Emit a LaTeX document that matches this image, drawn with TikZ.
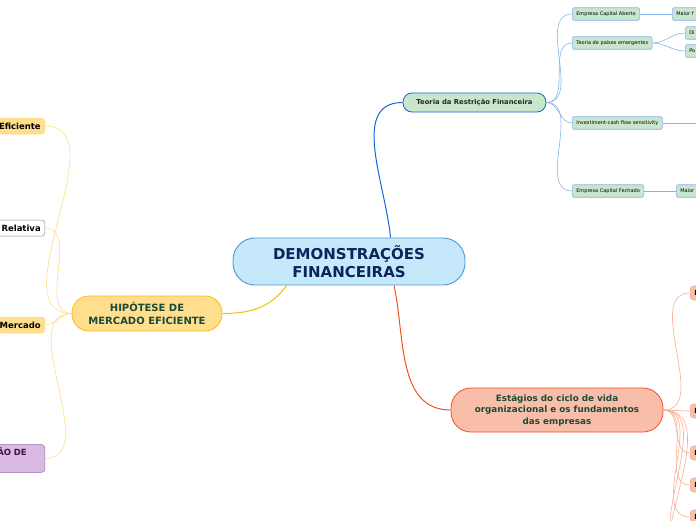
\documentclass[tikz,border=0pt]{standalone}
\usepackage{fontspec}
\setmainfont{DejaVu Sans}
\usetikzlibrary{positioning}
\definecolor{rootfill}{HTML}{C5E9FB}
\definecolor{rootline}{HTML}{4A98D8}
\definecolor{roottext}{HTML}{0C2459}
\definecolor{greenfill}{HTML}{C8E6CD}
\definecolor{blueline}{HTML}{1565D8}
\definecolor{lightblue}{HTML}{86B3EC}
\definecolor{salmon}{HTML}{F9BEAA}
\definecolor{orangeline}{HTML}{F4511E}
\definecolor{lightorange}{HTML}{FBAD93}
\definecolor{yellowfill}{HTML}{FFDE8D}
\definecolor{yellowline}{HTML}{FDB714}
\definecolor{lightyellow}{HTML}{FFDD85}
\definecolor{purplefill}{HTML}{D8BAE2}
\definecolor{purpleline}{HTML}{9A6AAA}
\definecolor{purpletext}{HTML}{3B1547}
\definecolor{darkgreen}{HTML}{1B4A36}
\tikzstyle{root}    = [rectangle, rounded corners=22pt, draw=rootline, fill=rootfill,
                       line width=0.9pt, minimum width=232pt, minimum height=47pt,
                       align=center, text=roottext,
                       font=\bfseries\fontsize{15}{18.5}\selectfont]
\tikzstyle{topic}   = [rectangle, line width=0.8pt, align=center, inner sep=0pt]
\tikzstyle{leaf}    = [rectangle, rounded corners=3pt, line width=0.5pt, anchor=east,
                       minimum width=90pt, minimum height=16pt, inner xsep=4pt,
                       align=right, text width=82pt,
                       font=\bfseries\fontsize{8.5}{10}\selectfont]
\tikzstyle{small}   = [rectangle, rounded corners=1.5pt, draw=lightblue, fill=greenfill,
                       line width=0.6pt, anchor=west, minimum height=12.5pt,
                       inner xsep=4pt, inner ysep=0pt, font=\fontsize{5}{6}\selectfont]
\tikzstyle{smallcut}= [small, text width=32pt, align=left]
\tikzstyle{stage}   = [rectangle, rounded corners=3pt, draw=lightorange, fill=salmon,
                       line width=0.6pt, anchor=west, minimum height=14pt,
                       minimum width=40pt, inner xsep=4pt, align=left, text width=32pt,
                       font=\bfseries\fontsize{7}{8}\selectfont]
\tikzstyle{trunk}   = [line width=1pt]
\tikzstyle{twig}    = [line width=0.6pt]

\begin{document}
\begin{tikzpicture}[x=1pt, y=-1pt]
\useasboundingbox (0,0) rectangle (696,520);
\clip (0,0) rectangle (696,520);

% centre
\node (central) [root] at (349,261.5) {DEMONSTRAÇÕES\\FINANCEIRAS};

% main topics
\node (restricao) [topic, rounded corners=9pt, draw=blueline, fill=greenfill,
  minimum width=143pt, minimum height=19pt, text=black!85,
  font=\bfseries\fontsize{6.8}{8}\selectfont] at (474.5,102.5) {Teoria da Restrição Financeira};
\node (ciclo) [topic, rounded corners=20pt, draw=orangeline, fill=salmon,
  minimum width=212pt, minimum height=44pt, text=darkgreen,
  font=\bfseries\fontsize{8.8}{11.5}\selectfont] at (557,410) {Estágios do ciclo de vida\\organizacional e os fundamentos\\das empresas};
\node (hipotese) [topic, rounded corners=17pt, draw=yellowline, fill=yellowfill,
  minimum width=150pt, minimum height=35pt, text=darkgreen,
  font=\bfseries\fontsize{10}{13}\selectfont] at (147,313.5) {HIPÓTESE DE\\MERCADO EFICIENTE};

\draw [trunk, blueline] (central.30) to[out=95, in=180] (restricao.west);
\draw [trunk, orangeline] (central.-28) to[out=-78, in=180] (ciclo.west);
\draw [trunk, yellowline] (central.-159) to[out=-125, in=0] (hipotese.east);

% Teoria da Restricao Financeira
\node (aberto) [small] at (572,14) {Empresa Capital Aberto};
\node (maior aberto) [smallcut] at (672,14) {Maior f};
\node (emergentes) [small] at (572,43) {Teoria de países emergentes};
\node (di) [smallcut] at (685,33) {Di};
\node (po) [smallcut] at (685,51) {Po};
\node (sensitivity) [small] at (572,123) {Investiment-cash flow sensitivity};
\node (fechado) [small] at (572,191) {Empresa Capital Fechado};
\node (maior fechado) [smallcut] at (676,191) {Maior};
\coordinate (sensitivity next) at (730,123);

\draw [twig, lightblue] (restricao.east) to[out=0, in=180] (aberto.west);
\draw [twig, lightblue] (restricao.east) to[out=0, in=180] (emergentes.west);
\draw [twig, lightblue] (restricao.east) to[out=0, in=180] (sensitivity.west);
\draw [twig, lightblue] (restricao.east) to[out=0, in=180] (fechado.west);
\draw [twig, lightblue] (aberto.east) -- (maior aberto.west);
\draw [twig, lightblue] (emergentes.east) to[out=0, in=180] (di.west);
\draw [twig, lightblue] (emergentes.east) to[out=0, in=180] (po.west);
\draw [twig, lightblue] (sensitivity.east) -- (sensitivity next);
\draw [twig, lightblue] (fechado.east) -- (maior fechado.west);

% Estagios do ciclo de vida
\node (stage a) [stage] at (690,293) {E};
\node (stage b) [stage] at (690,411) {E};
\node (stage c) [stage] at (690,453) {E};
\node (stage d) [stage] at (690,485) {E};
\node (stage e) [stage] at (690,517) {E};
\coordinate (stage f) at (690,552);
\coordinate (stage g) at (690,590);

\foreach \s in {a, b, c, d, e}
  \draw [twig, lightorange] (ciclo.east) to[out=0, in=180] (stage \s.west);
\draw [twig, lightorange] (ciclo.east) to[out=0, in=180] (stage f);
\draw [twig, lightorange] (ciclo.east) to[out=0, in=180] (stage g);

% Hipotese de mercado eficiente
\node (eficiente) [leaf, draw=lightyellow, fill=yellowfill] at (45,126) {Eficiente};
\node (relativa) [leaf, draw=black!45, fill=white] at (45,228) {Relativa};
\node (mercado) [leaf, draw=lightyellow, fill=yellowfill] at (45,325) {Mercado};
\node (purple) [leaf, draw=purpleline, fill=purplefill, text=purpletext,
  inner xsep=18pt, text width=68pt, minimum height=27pt, text depth=13pt] at (45,458.5) {ÃO DE};

\draw [twig, lightyellow] (eficiente.east) to[out=0, in=180] (hipotese.west);
\draw [twig, lightyellow] (relativa.east) to[out=0, in=180] (hipotese.west);
\draw [twig, lightyellow] (mercado.east) to[out=0, in=180] (hipotese.west);
\draw [twig, lightyellow] (purple.east) to[out=0, in=180] (hipotese.west);
\end{tikzpicture}
\end{document}
